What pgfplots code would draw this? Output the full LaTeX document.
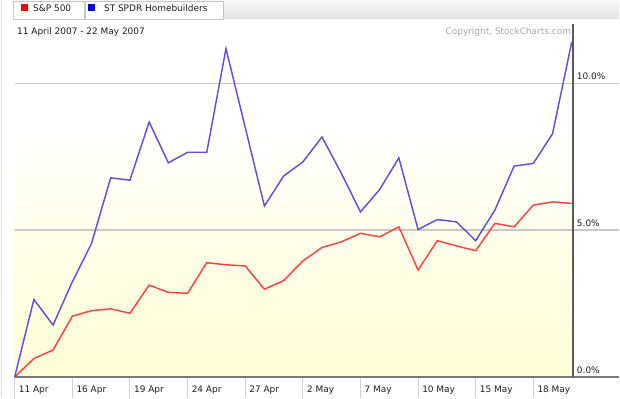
\documentclass[border=0pt]{standalone}
\usepackage{pgfplots}
\pgfplotsset{compat=1.18}
\usepackage{pgfplotstable}
\usepackage{fontspec}
\setmainfont{DejaVu Sans}
\definecolor{spx}{RGB}{255,64,64}
\definecolor{hb}{RGB}{96,78,228}
\definecolor{gridc}{RGB}{200,200,200}
\definecolor{axc}{RGB}{120,120,120}
\definecolor{raxc}{RGB}{90,90,90}
\definecolor{bgA}{RGB}{255,255,236}
\definecolor{bgB}{RGB}{255,253,214}
\definecolor{cpy}{RGB}{170,170,170}
\definecolor{txt}{RGB}{30,30,30}

\pgfplotstableread{
i spx hb
0 0.00 0.00
1 0.63 2.64
2 0.92 1.77
3 2.07 3.24
4 2.26 4.55
5 2.32 6.78
6 2.17 6.70
7 3.13 8.68
8 2.88 7.29
9 2.85 7.65
10 3.89 7.65
11 3.82 11.18
12 3.78 8.50
13 2.99 5.82
14 3.28 6.84
15 3.95 7.32
16 4.41 8.17
17 4.60 6.94
18 4.89 5.62
19 4.77 6.38
20 5.11 7.46
21 3.64 5.02
22 4.64 5.36
23 4.46 5.28
24 4.30 4.64
25 5.23 5.68
26 5.11 7.18
27 5.85 7.27
28 5.96 8.28
29 5.91 11.40
}\datatable

\begin{document}
\begin{tikzpicture}[font=\fontsize{9}{10}\selectfont, text=txt]
\begin{axis}[
  scale only axis, width=559.3bp, height=353bp,
  xmin=0, xmax=29.08, ymin=0, ymax=12,
  clip=false, axis on top,
  axis x line*=bottom, axis y line*=right,
  x axis line style={draw=none},
  y axis line style={draw=raxc, line width=1.6bp},
  xtick={0,3,...,27},
  xticklabels={11 Apr,16 Apr,19 Apr,24 Apr,27 Apr,2 May,7 May,10 May,15 May,18 May},
  xticklabel style={anchor=north west, inner sep=0, xshift=4bp, yshift=-8.5bp},
  ytick={0,5,10},
  yticklabels={0.0\%,5.0\%,10.0\%},
  yticklabel pos=right,
  yticklabel style={anchor=south west, inner sep=0, xshift=3.5bp, yshift=3bp},
  major tick length=0,
  tick style={draw=none},
]
% background
\fill[top color=white, bottom color=bgA, draw=none] (axis cs:0,5) rectangle (axis cs:29.08,8.3);
\fill[top color=bgA, bottom color=bgB, draw=none] (axis cs:0,0) rectangle (axis cs:29.08,5);
% grid lines and separators
\draw[gridc, line width=1.3bp] (axis cs:0,5) -- (axis cs:29.08,5) -- ++(46bp,0);
\draw[gridc, line width=1.3bp] (axis cs:0,10) -- (axis cs:29.08,10) -- ++(46bp,0);
\pgfplotsinvokeforeach{0,3,...,27}{
  \draw[gray!35, line width=1bp] (axis cs:#1,0) -- ++(0,-21bp);
}
\draw[axc, line width=1.6bp] (axis cs:0,0) -- (axis cs:29.08,0) -- ++(46bp,0);
% data
\addplot[spx, line width=1.45bp, mark=none] table[x=i, y=spx] {\datatable};
\addplot[hb, line width=1.45bp, mark=none] table[x=i, y=hb] {\datatable};
\coordinate (O) at (axis cs:0,0);
\end{axis}
\begin{scope}[shift={(O)}, xshift=-14.7bp, yshift=-21bp, x=1bp, y=1bp]
\path (0,0) rectangle (620,398);
% frame line at left
\draw[gray!25, line width=1bp] (2,0) -- (2,398);
% top bar
\shade[top color=gray!6, bottom color=gray!22] (13,380) rectangle (620,398);
\draw[gray!45, fill=white] (13,379.5) rectangle (84,397.5);
\draw[gray!45, fill=white] (85,379.5) rectangle (223,397.5);
\fill[red] (21,387) rectangle (28,394.5);
\node[anchor=west, inner sep=0] at (33,390.5) {S\&P 500};
\fill[blue!85!black] (88,387) rectangle (95,394.5);
\node[anchor=west, inner sep=0] at (104,390.5) {ST SPDR Homebuilders};
% title and copyright
\node[anchor=west, inner sep=0] at (17,366) {11 April 2007 - 22 May 2007};
\node[anchor=east, inner sep=0, text=cpy] at (572,366) {Copyright, StockCharts.com};
\end{scope}
\end{tikzpicture}
\end{document}
